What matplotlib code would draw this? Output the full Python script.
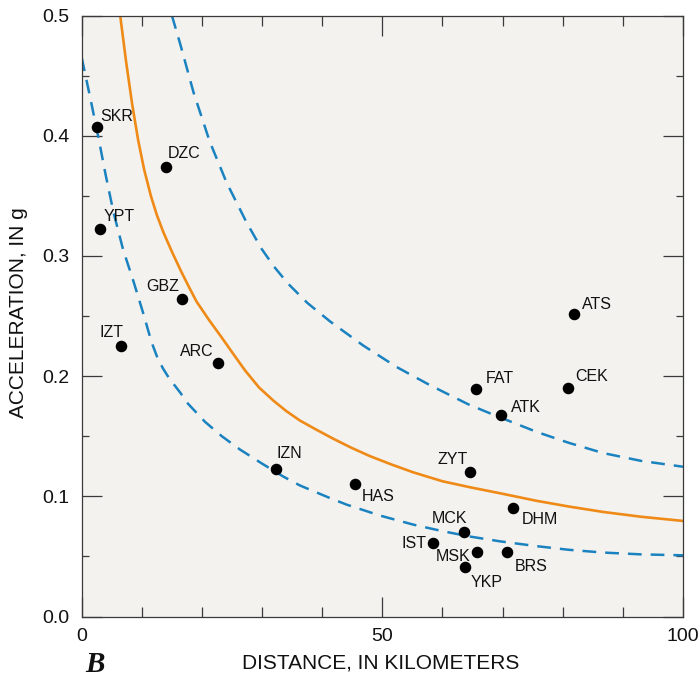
import matplotlib
matplotlib.use("Agg")
import matplotlib.pyplot as plt
from matplotlib.ticker import MultipleLocator

# ---------------- data ----------------
stations = ["SKR", "DZC", "YPT", "GBZ", "IZT", "ARC", "IZN", "HAS", "ZYT", "MCK",
            "IST", "MSK", "YKP", "BRS", "DHM", "FAT", "ATK", "CEK", "ATS"]
distance_km = [2.5, 14.1, 3.0, 16.7, 6.5, 22.7, 32.3, 45.4, 64.6, 63.6,
               58.5, 65.7, 63.7, 70.7, 71.7, 65.6, 69.7, 80.8, 81.8]
accel_g = [0.407, 0.374, 0.322, 0.264, 0.225, 0.211, 0.123, 0.110, 0.120, 0.070,
           0.061, 0.054, 0.041, 0.054, 0.090, 0.189, 0.168, 0.190, 0.252]

# median curve (solid orange)
median_x = [6.4, 7.4, 8.4, 9.4, 10.4, 11.5, 12.5, 13.6, 15.0, 16.5, 17.8, 19.1,
            21.2, 23.3, 25.2, 27.2, 29.5, 31.9, 34.0, 36.3, 39.0, 41.8, 44.8, 47.9,
            51.5, 55.1, 60.0, 64.6, 69.6, 75.7, 81.0, 86.7, 93.0, 100.0]
median_y = [0.500, 0.461, 0.426, 0.396, 0.3715, 0.350, 0.334, 0.3195, 0.3035,
            0.2875, 0.2745, 0.262, 0.2465, 0.232, 0.2185, 0.2045, 0.1905, 0.1795,
            0.171, 0.163, 0.1555, 0.148, 0.1405, 0.1335, 0.1265, 0.120, 0.1125,
            0.1075, 0.1025, 0.0962, 0.0915, 0.087, 0.083, 0.0795]

# lower dashed curve
lower_x = [0.0, 1.4, 2.8, 4.0, 5.3, 6.9, 8.6, 10.25, 11.6, 12.5, 13.5, 14.5, 15.5,
           16.5, 17.5, 20.5, 23.3, 26.3, 29.9, 33.5, 36.3, 41.3, 44.1, 49.6, 55.1,
           60.0, 64.6, 69.6, 75.7, 81.0, 86.7, 93.0, 100.0]
lower_y = [0.465, 0.432, 0.398, 0.367, 0.336, 0.305, 0.279, 0.252, 0.2285, 0.2165,
           0.2065, 0.1985, 0.192, 0.1855, 0.178, 0.162, 0.150, 0.139, 0.1275,
           0.1165, 0.109, 0.0985, 0.093, 0.084, 0.0765, 0.071, 0.0665, 0.0625,
           0.0585, 0.0555, 0.0532, 0.0517, 0.0509]

# upper dashed curve
upper_x = [15.0, 16.4, 18.6, 21.3, 24.1, 27.4, 29.9, 32.0, 34.3, 37.5, 41.3, 46.8,
           52.4, 57.9, 64.3, 68.4, 75.7, 81.0, 86.7, 93.0, 100.0]
upper_y = [0.500, 0.476, 0.436, 0.395, 0.361, 0.328, 0.306, 0.291, 0.277, 0.261,
           0.2455, 0.2255, 0.2075, 0.1925, 0.1765, 0.168, 0.1535, 0.1445, 0.136,
           0.1295, 0.1246]

xticks_major = [0, 50, 100]
xtick_labels = ["0", "50", "100"]
yticks_major = [0.0, 0.1, 0.2, 0.3, 0.4, 0.5]
ytick_labels = ["0.0", "0.1", "0.2", "0.3", "0.4", "0.5"]

# label placement (pixel offsets from the point, horizontal alignment)
label_offsets = {
    "SKR": (3.3, 6.7, "left"), "DZC": (1.6, 8.6, "left"), "YPT": (3.6, 8.0, "left"),
    "GBZ": (-3.0, 8.3, "right"), "IZT": (2.3, 9.3, "right"), "ARC": (-4.3, 6.7, "right"),
    "IZN": (0.7, 10.4, "left"), "HAS": (7.3, -16.7, "left"), "ZYT": (-2.0, 8.3, "right"),
    "MCK": (3.4, 9.0, "right"), "IST": (-7.0, -4.7, "right"), "MSK": (-6.0, -9.0, "right"),
    "YKP": (6.0, -20.0, "left"), "BRS": (8.0, -19.4, "left"), "DHM": (9.0, -15.3, "left"),
    "FAT": (9.4, 6.6, "left"), "ATK": (10.0, 2.3, "left"), "CEK": (7.7, 7.3, "left"),
    "ATS": (8.4, 5.0, "left"),
}

# ---------------- style ----------------
plt.rcParams["font.family"] = ["Liberation Sans", "DejaVu Sans"]
W, H = 699, 684
fig = plt.figure(figsize=(W / 100, H / 100), dpi=100)
fig.patch.set_facecolor("white")
ax = fig.add_axes([81.7 / W, 1 - 616.5 / H, (683 - 81.7) / W, (616.5 - 15.5) / H])
ax.set_facecolor("#F3F2EF")

ORANGE = "#EF8A17"
BLUE = "#1B82C0"
DARK = "#3a3a3a"

ax.plot(median_x, median_y, color=ORANGE, lw=1.9, solid_joinstyle="round", zorder=2)
ax.plot(lower_x, lower_y, color=BLUE, lw=1.8, dashes=(5.5, 3.6), zorder=2)
ax.plot(upper_x, upper_y, color=BLUE, lw=1.8, dashes=(5.5, 3.6), zorder=2)

ax.plot(distance_km, accel_g, "o", color="black", ms=7.3, zorder=3, clip_on=False)

for name, x, y in zip(stations, distance_km, accel_g):
    dx, dy, ha = label_offsets[name]
    ax.annotate(name, (x, y), xytext=(dx, dy), textcoords="offset pixels",
                ha=ha, va="baseline", fontsize=11.5, color="#111111", zorder=4)

ax.set_xlim(0, 100)
ax.set_ylim(0, 0.5)
ax.set_xticks(xticks_major)
ax.set_xticklabels(xtick_labels)
ax.set_yticks(yticks_major)
ax.set_yticklabels(ytick_labels)
ax.xaxis.set_minor_locator(MultipleLocator(10))
ax.yaxis.set_minor_locator(MultipleLocator(0.05))

ax.tick_params(axis="both", which="both", direction="in", top=True, right=True,
               color=DARK, labelsize=14, labelcolor="#111111")
ax.tick_params(axis="both", which="major", length=14.5, width=0.9)
ax.tick_params(axis="x", which="minor", length=7.2, width=0.9)
ax.tick_params(axis="y", which="minor", length=5.0, width=0.9)
ax.tick_params(axis="y", which="major", pad=9)
ax.tick_params(axis="x", which="major", pad=8)

for s in ax.spines.values():
    s.set_color(DARK)
    s.set_linewidth(0.9)

ax.set_xlabel("DISTANCE, IN KILOMETERS", fontsize=15, color="#111111")
ax.xaxis.label.set_va("center")
ax.xaxis.set_label_coords((380.5 - 81.7) / 601.3, (616.5 - 663) / 601)
ax.set_ylabel("ACCELERATION, IN g", fontsize=15, color="#111111")
ax.yaxis.label.set_va("center")
ax.yaxis.set_label_coords((18 - 81.7) / 601.3, (616.5 - 312.5) / 601)

fig.text(95 / W, 1 - 664 / H, "B", fontsize=21, fontweight="bold", fontstyle="italic",
         family=["Liberation Serif", "DejaVu Serif"], ha="center", va="center",
         color="#111111")

fig.savefig("out.png", dpi=100, facecolor="white")
